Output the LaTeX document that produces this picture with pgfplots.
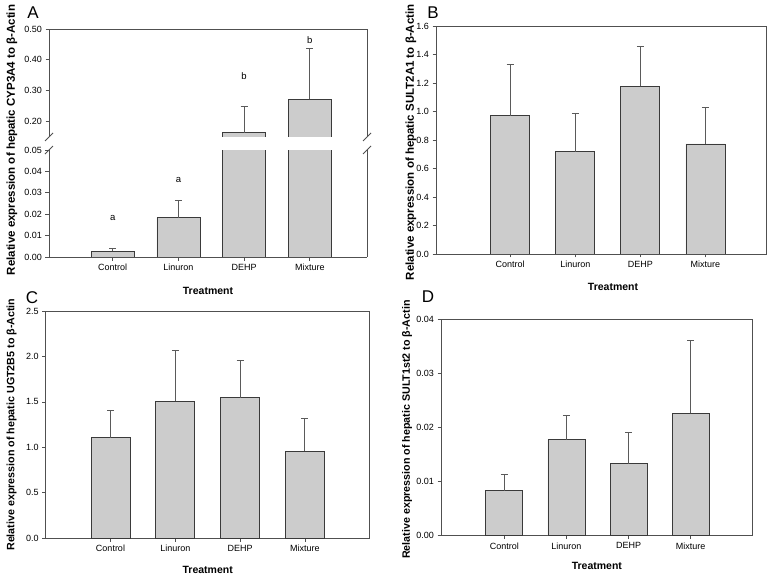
\documentclass[border=0pt]{standalone}
\usepackage{pgfplots}
\pgfplotsset{compat=1.18}
\usepackage{pgfplotstable}
\usepackage{fontspec}
\setmainfont{Liberation Sans}

\definecolor{barfill}{HTML}{CCCCCC}
\definecolor{baredge}{HTML}{3A3A3A}
\definecolor{axisgray}{HTML}{505050}
\definecolor{errgray}{HTML}{5A5A5A}

% x  y  err
\pgfplotstableread{
x y e
0 0.0028 0.0014
1 0.0184 0.0082
2 0.164 0.085
3 0.272 0.164
}\tabA
\pgfplotstableread{
x y e
2 0.164 0.085
3 0.272 0.164
}\tabAup
\pgfplotstableread{
x y e
0 0.971 0.360
1 0.718 0.267
2 1.177 0.278
3 0.772 0.257
}\tabB
\pgfplotstableread{
x y e
0 1.107 0.301
1 1.510 0.561
2 1.547 0.414
3 0.960 0.360
}\tabC
\pgfplotstableread{
x y e
0 0.00831 0.00295
1 0.01772 0.00450
2 0.01329 0.00579
3 0.02258 0.01342
}\tabD

\pgfplotsset{
  panel/.style={
    scale only axis,
    ybar,
    xtick={0,1,2,3},
    xticklabels={Control,Linuron,DEHP,Mixture},
    ytick pos=left,
    tick align=outside,
    major tick length=3.5pt,
    xtick style={draw=axisgray, line width=0.8pt},
    ytick style={draw=axisgray, line width=0.8pt},
    axis line style={draw=axisgray, line width=0.9pt},
    tick label style={font=\fontsize{9}{10}\selectfont},
    /pgf/number format/assume math mode=true,
    scaled y ticks=false,
    ymin=0,
    enlarge y limits=false,
    xlabel={Treatment},
    every axis y label/.style={at={(axis description cs:0,0.5)}, rotate=90, anchor=center,
      font=\bfseries\fontsize{10.7}{12}\selectfont},
    every axis x label/.style={at={(axis description cs:0.5,0)}, anchor=center,
      font=\bfseries\fontsize{10.5}{12}\selectfont},
  },
  dec/.style={/pgf/number format/fixed, /pgf/number format/fixed zerofill, /pgf/number format/precision=#1},
  bars/.style={
    fill=barfill, draw=baredge, line width=0.8pt,
    error bars/.cd, y dir=plus, y explicit,
    error mark=|,
    error bar style={draw=errgray, line width=0.9pt},
    error mark options={draw=errgray, line width=0.9pt, mark size=3.5pt},
  },
}

\begin{document}
\begin{tikzpicture}
\useasboundingbox (0,0) rectangle (776pt,579pt);

% ---------- A (broken y axis) ----------
\begin{axis}[panel, name=Alow,
  at={(49pt,322pt)}, anchor=south west,
  width=318pt, height=107pt,
  xmin=-0.97, xmax=3.87, ymax=0.05,
  bar width=43pt,
  axis x line*=bottom, axis y line*=box, ytick pos=left,
  ytick={0,0.01,0.02,0.03,0.04,0.05},
  dec=2,
  ylabel={Relative expression of hepatic CYP3A4 to β-Actin},
  ylabel style={at={([xshift=-37pt]axis description cs:0,1.093)}, font=\bfseries\fontsize{11.5}{13}\selectfont},
  xlabel style={at={([yshift=-34pt]axis description cs:0.5,0)}},
]
\addplot[bars] table[x=x, y=y, y error=e] {\tabA};
\node[font=\fontsize{9.5}{10}\selectfont] at (axis cs:0,0.0181) {a};
\node[font=\fontsize{9.5}{10}\selectfont] at (axis cs:1,0.036) {a};
\end{axis}

\begin{axis}[panel, name=Aup,
  at={(49pt,442pt)}, anchor=south west,
  width=318pt, height=108pt,
  xmin=-0.97, xmax=3.87, ymin=0.15, ymax=0.50,
  bar width=43pt,
  axis x line*=top, axis y line*=box, ytick pos=left,
  xticklabels={}, xlabel={}, xtick style={draw=none},
  ytick={0.2,0.3,0.4,0.5},
  dec=2,
]
\addplot[bars] table[x=x, y=y, y error=e] {\tabAup};
\node[font=\fontsize{9.5}{10}\selectfont] at (axis cs:2,0.347) {b};
\node[font=\fontsize{9.5}{10}\selectfont] at (axis cs:3,0.465) {b};
\end{axis}

% break marks
\foreach \c in {Aup.south west, Aup.south east, Alow.north west, Alow.north east}
  \draw[axisgray, line width=0.8pt] ([shift={(-4pt,-4pt)}]\c) -- ([shift={(4pt,4pt)}]\c);

% ---------- B ----------
\begin{axis}[panel, xtick pos=bottom,
  at={(436pt,325pt)}, anchor=south west,
  width=330pt, height=228pt,
  xmin=-1.14, xmax=3.93, ymax=1.6,
  bar width=39pt,
  ytick={0,0.2,...,1.6},
  dec=1,
  ylabel={Relative expression of hepatic SULT2A1 to β-Actin},
  ylabel style={at={([xshift=-25pt]axis description cs:0,0.49)}, font=\bfseries\fontsize{11.5}{13}\selectfont},
  xlabel style={at={([xshift=12pt,yshift=-33pt]axis description cs:0.5,0)}},
]
\addplot[bars] table[x=x, y=y, y error=e] {\tabB};
\end{axis}

% ---------- C ----------
\begin{axis}[panel, xtick pos=bottom,
  at={(45.7pt,40.7pt)}, anchor=south west,
  width=324pt, height=227.3pt,
  xmin=-1, xmax=4, ymax=2.5,
  bar width=39pt,
  ytick={0,0.5,...,2.5},
  dec=1,
  ylabel={Relative expression of hepatic UGT2B5 to β-Actin},
  ylabel style={at={([xshift=-34pt]axis description cs:0,0.5)}},
  xlabel style={at={([yshift=-32pt]axis description cs:0.5,0)}},
]
\addplot[bars] table[x=x, y=y, y error=e] {\tabC};
\end{axis}

% ---------- D ----------
\begin{axis}[panel, xtick pos=bottom,
  at={(441pt,43.3pt)}, anchor=south west,
  width=311.7pt, height=216.7pt,
  xmin=-1.02, xmax=4, ymax=0.04,
  bar width=37pt,
  ytick={0,0.01,0.02,0.03,0.04},
  dec=2,
  ylabel={Relative expression of hepatic SULT1st2 to β-Actin},
  ylabel style={at={([xshift=-34pt]axis description cs:0,0.49)}},
  xlabel style={at={([yshift=-30pt]axis description cs:0.5,0)}},
]
\addplot[bars] table[x=x, y=y, y error=e] {\tabD};
\end{axis}

% panel letters
\node[font=\fontsize{17}{19}\selectfont] at (33pt,566pt) {A};
\node[font=\fontsize{17}{19}\selectfont] at (433pt,566pt) {B};
\node[font=\fontsize{17}{19}\selectfont] at (32pt,281pt) {C};
\node[font=\fontsize{17}{19}\selectfont] at (428pt,282pt) {D};
\end{tikzpicture}
\end{document}
